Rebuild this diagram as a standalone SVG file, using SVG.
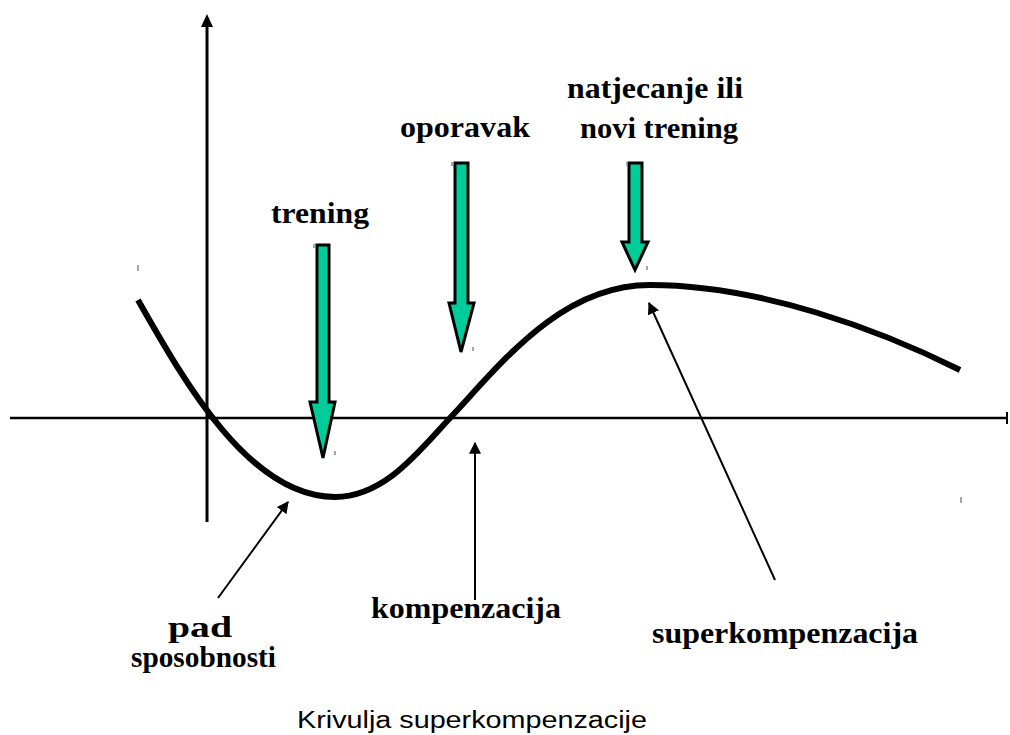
<svg xmlns="http://www.w3.org/2000/svg" width="1010" height="735" viewBox="0 0 1010 735">
<style>
.lbl{font-family:"Liberation Serif","Times New Roman",serif;font-weight:bold;font-size:30px;fill:#000}
.cap{font-family:"Liberation Sans",Arial,sans-serif;font-size:23px;fill:#000}
.green{fill:#00CC99;stroke:#000;stroke-width:3;stroke-linejoin:miter}
.thin{stroke:#000;stroke-width:2;fill:none}
.tick{stroke:#888;stroke-width:1.5}
</style>
<defs>
<marker id="ah" viewBox="0 0 10 10" refX="9" refY="5" markerWidth="6" markerHeight="6" orient="auto" markerUnits="strokeWidth">
<path d="M0,0 L10,5 L0,10 Z" fill="#000"/>
</marker>
</defs>
<rect width="1010" height="735" fill="#fff"/>
<g id="axes">
<line x1="207" y1="26" x2="207" y2="522" stroke="#000" stroke-width="3"/>
<polygon points="207,14 201,27 213,27" fill="#000"/>
<line x1="10" y1="418" x2="1007" y2="418" stroke="#000" stroke-width="2.5"/>
<line x1="1007" y1="412" x2="1007" y2="424" stroke="#000" stroke-width="2"/>
</g>
<g id="curve">
<path d="M138,300 C185,383 250,497 335,497 C385,497 420,450 450,418 C500,365 560,285 650,285 C760,285 880,330 960,370" fill="none" stroke="#000" stroke-width="6"/>
</g>
<g id="arrow-trening">
<polygon class="green" points="317,245 329,245 329,402 335,402 323,458 310,402 317,402"/>
</g>
<g id="arrow-oporavak">
<polygon class="green" points="455,163 468,163 468,303 474,303 461,352 449,303 455,303"/>
</g>
<g id="arrow-natjecanje">
<polygon class="green" points="629,163 642,163 642,242 648,242 635,270 622,242 629,242"/>
</g>
<g id="ticks">
<line class="tick" x1="138" y1="265" x2="138" y2="271"/>
<line class="tick" x1="314" y1="244" x2="314" y2="248"/>
<line class="tick" x1="335" y1="451" x2="335" y2="455"/>
<line class="tick" x1="452" y1="162" x2="452" y2="166"/>
<line class="tick" x1="473" y1="347" x2="473" y2="351"/>
<line class="tick" x1="627" y1="162" x2="627" y2="166"/>
<line class="tick" x1="647" y1="266" x2="647" y2="270"/>
<line class="tick" x1="961" y1="497" x2="961" y2="503"/>
</g>
<g id="connectors">
<line class="thin" x1="218" y1="598" x2="288" y2="502" marker-end="url(#ah)"/>
<line class="thin" x1="475" y1="600" x2="475" y2="443" marker-end="url(#ah)"/>
<line class="thin" x1="775" y1="580" x2="649" y2="303" marker-end="url(#ah)"/>
</g>
<g id="labels">
<text class="lbl" x="271" y="223" textLength="98" lengthAdjust="spacingAndGlyphs">trening</text>
<text class="lbl" x="400" y="137" textLength="130" lengthAdjust="spacingAndGlyphs">oporavak</text>
<text class="lbl" x="567" y="98" textLength="176" lengthAdjust="spacingAndGlyphs">natjecanje ili</text>
<text class="lbl" x="580" y="138" textLength="158" lengthAdjust="spacingAndGlyphs">novi trening</text>
<text class="lbl" x="168" y="637" textLength="64" lengthAdjust="spacingAndGlyphs">pad</text>
<text class="lbl" x="131" y="667" textLength="145" lengthAdjust="spacingAndGlyphs">sposobnosti</text>
<text class="lbl" x="371" y="618" textLength="190" lengthAdjust="spacingAndGlyphs">kompenzacija</text>
<text class="lbl" x="652" y="643" textLength="266" lengthAdjust="spacingAndGlyphs">superkompenzacija</text>
<text class="cap" x="297" y="728" textLength="350" lengthAdjust="spacingAndGlyphs">Krivulja superkompenzacije</text>
</g>
</svg>
